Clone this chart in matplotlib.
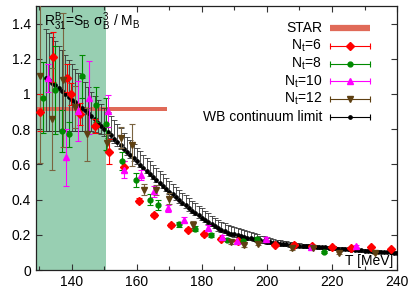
import numpy as np
import matplotlib
matplotlib.use("Agg")
import matplotlib.pyplot as plt
from matplotlib.ticker import MultipleLocator, FormatStrFormatter

plt.rcParams['font.family'] = ['Liberation Sans', 'DejaVu Sans']
plt.rcParams['mathtext.fontset'] = 'custom'
plt.rcParams['mathtext.rm'] = 'Liberation Sans'
plt.rcParams['mathtext.it'] = 'Liberation Sans:italic'
plt.rcParams['mathtext.default'] = 'regular'

# STAR band
star_T = [129.0, 169.2]
star_val = 0.914
star_half = 0.013

# Nt=6
nt6_T = [130.3, 134.1, 138.5, 139.7, 142.4, 147.0, 151.5, 156.2, 160.8, 165.4, 170.6,
         175.7, 180.8, 185.9, 191.2, 202.5, 208.2, 214.0, 219.9, 225.9, 231.9, 238.1]
nt6_v = [0.895, 1.21, 1.09, 1.00, 0.886, 0.82, 0.672, 0.587, 0.394, 0.314, 0.255,
         0.229, 0.202, 0.177, 0.162, 0.143, 0.140, 0.135, 0.133, 0.126, 0.131, 0.118]
nt6_e = [0.105, 0.14, 0.08, 0.06, 0.06, 0.04, 0.07, 0.03, 0.015, 0.012, 0.01,
         0.01, 0.01, 0.008, 0.008, 0.006, 0.006, 0.005, 0.005, 0.005, 0.005, 0.005]

# Nt=8
nt8_T = [131.1, 135.0, 137.0, 139.0, 143.0, 147.3, 150.5, 155.4, 159.8, 164.2, 166.4,
         173.1, 177.8, 182.7, 187.6, 192.6, 197.1, 217.7]
nt8_v = [0.98, 1.02, 0.79, 0.77, 1.10, 0.94, 0.83, 0.62, 0.51, 0.40, 0.37,
         0.26, 0.235, 0.20, 0.172, 0.163, 0.178, 0.103]
nt8_e = [0.20, 0.25, 0.12, 0.07, 0.12, 0.10, 0.15, 0.05, 0.04, 0.03, 0.03,
         0.015, 0.015, 0.01, 0.01, 0.01, 0.01, 0.005]

# Nt=10
nt10_T = [132.7, 138.2, 141.8, 145.3, 151.0, 156.0, 161.3, 165.3, 169.5, 174.4, 181.8,
          186.2, 190.8, 199.7, 213.6, 227.4]
nt10_v = [1.09, 0.64, 0.905, 0.98, 0.905, 0.571, 0.54, 0.447, 0.352, 0.286, 0.238,
          0.19, 0.162, 0.178, 0.133, 0.135]
nt10_e = [0.08, 0.16, 0.17, 0.21, 0.09, 0.05, 0.03, 0.03, 0.02, 0.015, 0.015,
          0.01, 0.01, 0.01, 0.005, 0.005]

# Nt=12
nt12_T = [130.3, 133.9, 137.2, 140.9, 144.7, 150.9, 155.1, 158.6, 162.3, 165.9, 169.8,
          177.3, 189.0, 193.1, 197.2, 207.8, 214.1, 222.3, 233.1]
nt12_v = [1.10, 0.86, 1.08, 0.925, 0.771, 0.724, 0.752, 0.712, 0.457, 0.455, 0.405,
          0.257, 0.16, 0.14, 0.15, 0.124, 0.124, 0.097, 0.097]
nt12_e = [0.49, 0.29, 0.38, 0.12, 0.15, 0.05, 0.06, 0.12, 0.03, 0.03, 0.03,
          0.02, 0.01, 0.01, 0.01, 0.01, 0.005, 0.005, 0.005]

# WB continuum limit, T = 132 ... 240 MeV
wb_T = np.arange(132, 241)
wb_v = [1.090, 1.077, 1.063, 1.050, 1.035, 1.018, 1.002, 0.985, 0.968, 0.952,
        0.937, 0.922, 0.907, 0.890, 0.873, 0.856, 0.838, 0.820, 0.802, 0.784,
        0.765, 0.746, 0.727, 0.709, 0.690, 0.671, 0.653, 0.635, 0.617, 0.599,
        0.581, 0.564, 0.547, 0.530, 0.513, 0.496, 0.479, 0.462, 0.445, 0.429,
        0.413, 0.397, 0.382, 0.367, 0.352, 0.338, 0.324, 0.311, 0.298, 0.285,
        0.272, 0.260, 0.248, 0.236, 0.228, 0.220, 0.213, 0.207, 0.202, 0.197,
        0.192, 0.188, 0.184, 0.180, 0.176, 0.172, 0.168, 0.165, 0.161, 0.158,
        0.155, 0.152, 0.150, 0.147, 0.145, 0.143, 0.141, 0.139, 0.138, 0.136,
        0.135, 0.134, 0.133, 0.131, 0.130, 0.129, 0.128, 0.127, 0.125, 0.124,
        0.122, 0.121, 0.119, 0.118, 0.116, 0.114, 0.113, 0.111, 0.110, 0.108,
        0.107, 0.105, 0.104, 0.103, 0.102, 0.101, 0.100, 0.099, 0.098, 0.097][:len(wb_T)]
wb_hi = [0.28, 0.27, 0.26, 0.25, 0.24, 0.23, 0.22, 0.21, 0.20, 0.19,
         0.18, 0.17, 0.16, 0.15, 0.14, 0.135, 0.13, 0.125, 0.12, 0.115,
         0.11, 0.105, 0.10, 0.095, 0.09, 0.087, 0.084, 0.081, 0.078, 0.076,
         0.074, 0.072, 0.070, 0.068, 0.066, 0.065, 0.064, 0.063, 0.062, 0.061,
         0.060, 0.059, 0.058, 0.057, 0.056, 0.055, 0.054, 0.053, 0.052, 0.051,
         0.050, 0.049, 0.048, 0.047, 0.046, 0.045, 0.044, 0.043, 0.042, 0.041,
         0.040, 0.038, 0.036, 0.034, 0.032, 0.030, 0.028, 0.026, 0.024, 0.023,
         0.022, 0.021, 0.020, 0.019, 0.018, 0.017, 0.016, 0.015, 0.014, 0.013,
         0.012, 0.011, 0.010, 0.010, 0.009, 0.009, 0.008, 0.008, 0.008, 0.007,
         0.007, 0.007, 0.007, 0.007, 0.007, 0.007, 0.007, 0.007, 0.007, 0.007,
         0.007, 0.007, 0.007, 0.007, 0.007, 0.007, 0.007, 0.007, 0.007, 0.007][:len(wb_T)]
wb_lo = [0.300, 0.287, 0.273, 0.260, 0.245, 0.228, 0.212, 0.195, 0.178, 0.162,
         0.147, 0.132, 0.117, 0.100, 0.083, 0.070, 0.060, 0.050, 0.042, 0.035,
         0.030, 0.026, 0.023, 0.020, 0.018, 0.017, 0.016, 0.015, 0.015, 0.014,
         0.014, 0.014, 0.014, 0.014, 0.014, 0.014, 0.014, 0.014, 0.014, 0.014,
         0.014, 0.014, 0.014, 0.014, 0.014, 0.014, 0.014, 0.014, 0.014, 0.012,
         0.012, 0.012, 0.012, 0.012, 0.012, 0.012, 0.012, 0.012, 0.012, 0.012,
         0.012, 0.012, 0.012, 0.012, 0.012, 0.012, 0.012, 0.012, 0.012, 0.010,
         0.010, 0.010, 0.010, 0.010, 0.010, 0.010, 0.010, 0.010, 0.010, 0.010,
         0.010, 0.010, 0.010, 0.010, 0.010, 0.010, 0.010, 0.010, 0.010, 0.006,
         0.006, 0.006, 0.006, 0.006, 0.006, 0.006, 0.006, 0.006, 0.006, 0.006,
         0.006, 0.006, 0.006, 0.006, 0.006, 0.006, 0.006, 0.006, 0.006, 0.006][:len(wb_T)]

green_band = (129.0, 150.4)

c_star = '#e06a58'
c6, c8, c10, c12, cwb = '#ff0000', '#008a00', '#ff00ff', '#5e4012', '#000000'

fig = plt.figure(figsize=(4.15, 2.96), dpi=100)
ax = fig.add_axes([0.0867, 0.0878, 0.870, 0.892])

ax.axvspan(green_band[0], green_band[1], color='#98cfb2', lw=0, zorder=0)
ax.fill_between(star_T, star_val - star_half, star_val + star_half,
                color=c_star, lw=0, zorder=1)

ax.errorbar(wb_T, wb_v, yerr=[wb_lo, wb_hi], fmt='o', ms=2.4, color=cwb,
            ecolor='#333333', elinewidth=0.6, capsize=2.5, capthick=0.6, zorder=3)
ax.errorbar(nt6_T, nt6_v, yerr=nt6_e, fmt='D', ms=4.5, color=c6,
            elinewidth=0.8, capsize=2.5, capthick=0.8, zorder=4)
ax.errorbar(nt8_T, nt8_v, yerr=nt8_e, fmt='o', ms=3.5, color=c8,
            elinewidth=0.8, capsize=2.5, capthick=0.8, zorder=4)
ax.errorbar(nt10_T, nt10_v, yerr=nt10_e, fmt='^', ms=5, color=c10,
            elinewidth=0.8, capsize=2.5, capthick=0.8, zorder=4)
ax.errorbar(nt12_T, nt12_v, yerr=nt12_e, fmt='v', ms=5, color=c12,
            ecolor='#7a6440', elinewidth=0.8, capsize=2.5, capthick=0.8, zorder=4)

ax.set_xlim(129, 240)
ax.set_ylim(0, 1.5)
ax.xaxis.set_major_locator(MultipleLocator(20))
ax.xaxis.set_minor_locator(MultipleLocator(10))
ax.yaxis.set_major_locator(MultipleLocator(0.2))
ax.yaxis.set_major_formatter(FormatStrFormatter('%g'))
ax.tick_params(which='both', direction='in', top=True, right=True,
               labelsize=10, width=0.8, color='#333333')
ax.tick_params(which='major', length=4)
ax.tick_params(which='minor', length=3)
for s in ax.spines.values():
    s.set_linewidth(0.9)
    s.set_color('#222222')

ax.text(0.99, 0.008, 'T [MeV]', transform=ax.transAxes, ha='right', va='bottom',
        fontsize=10, zorder=6)
ax.text(0.022, 0.985, r'R$^{B}_{31}$=S$_B$ $\sigma^3_B$ / M$_B$',
        transform=ax.transAxes, ha='left', va='top', fontsize=10, zorder=6)

# gnuplot style key
rows = [('STAR', c_star, None, None),
        ('N$_t$=6', c6, 'D', 4.5),
        ('N$_t$=8', c8, 'o', 3.5),
        ('N$_t$=10', c10, '^', 5),
        ('N$_t$=12', c12, 'v', 5),
        ('WB continuum limit', cwb, 'o', 2.4)]
y0, dy = 0.917, 0.0675
xt, xa, xb = 0.792, 0.814, 0.925
for i, (lab, col, mk, ms) in enumerate(rows):
    y = y0 - i * dy
    ax.text(xt, y, lab, transform=ax.transAxes, ha='right', va='center', fontsize=10)
    if mk is None:
        ax.plot([xa, xb], [y, y], transform=ax.transAxes, color=col, lw=4.5,
                solid_capstyle='butt')
    else:
        ax.plot([xa, xb], [y, y], transform=ax.transAxes, color=col, lw=0.8)
        ax.plot([xa, xb], [y, y], transform=ax.transAxes, color=col, ls='none',
                marker='|', ms=4, mew=0.8)
        ax.plot([(xa + xb) / 2], [y], transform=ax.transAxes, color=col,
                marker=mk, ms=ms, ls='none')

fig.savefig('out.png', dpi=100)
